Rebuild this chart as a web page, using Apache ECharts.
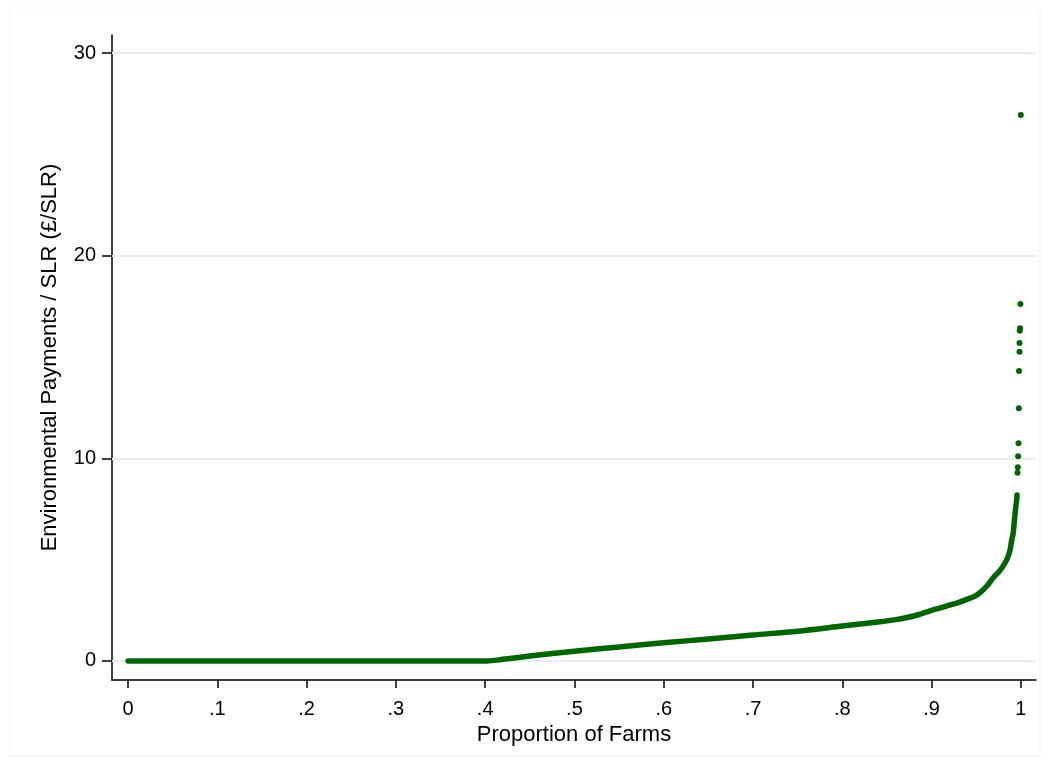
<!DOCTYPE html>
<html>
<head>
<meta charset="utf-8">
<script src="https://cdn.jsdelivr.net/npm/echarts@6/dist/echarts.min.js"></script>
<style>
  html, body { margin: 0; padding: 0; background: #fff; }
  #chart { width: 1048px; height: 764px; }
</style>
</head>
<body>
<div id="chart"></div>
<script>
// proportion of farms (x) and payments per SLR (y)
var curveX = [0, 0.402, 0.42, 0.45, 0.5, 0.55, 0.6, 0.65, 0.7, 0.75, 0.8, 0.84, 0.86, 0.88,
  0.9, 0.91, 0.92, 0.93, 0.94, 0.948, 0.955, 0.963, 0.970, 0.9757, 0.981, 0.985,
  0.988, 0.9895, 0.9914, 0.9925, 0.9936, 0.9944, 0.9955, 0.9957];
var curveY = [0, 0, 0.08, 0.24, 0.48, 0.69, 0.9, 1.08, 1.28, 1.47, 1.72, 1.92, 2.04, 2.22,
  2.5, 2.62, 2.75, 2.88, 3.05, 3.19, 3.4, 3.75, 4.16, 4.41, 4.74, 5.07,
  5.48, 5.89, 6.30, 6.79, 7.29, 7.61, 8.0, 8.19];
// the sparse outliers at the top end
var tailX = [0.9963, 0.9966, 0.9970, 0.9974, 0.9978, 0.998, 0.9985, 0.9985, 0.9988, 0.9992, 0.9995, 1.0];
var tailY = [9.29, 9.56, 10.10, 10.74, 12.47, 14.31, 15.26, 15.69, 16.3, 16.42, 17.61, 26.94];

var xTicks = [0, 0.1, 0.2, 0.3, 0.4, 0.5, 0.6, 0.7, 0.8, 0.9, 1];
var yTicks = [0, 10, 20, 30];

var green = "#006400";
var font = "'Liberation Sans', Arial, sans-serif";

var curve = [];
for (var i = 0; i < curveX.length; i++) curve.push([curveX[i], curveY[i]]);
var tail = [];
for (var j = 0; j < tailX.length; j++) tail.push([tailX[j], tailY[j]]);

var chart = echarts.init(document.getElementById("chart"));

var option = {
  animation: false,
  backgroundColor: "#fff",
  graphic: [{
    type: "rect",
    shape: { x: 10, y: 8, width: 1030, height: 748 },
    style: { fill: "none", stroke: "#f1f3f5", lineWidth: 1 },
    silent: true
  }],
  grid: { left: 112, right: 12, top: 35, bottom: 84, containLabel: false },
  xAxis: {
    type: "value",
    min: -0.018,
    max: 1.017,
    name: "Proportion of Farms",
    nameLocation: "middle",
    nameGap: 40,
    nameTextStyle: { fontFamily: font, fontSize: 22, color: "#000" },
    axisLine: { show: true, onZero: false, lineStyle: { color: "#000", width: 1.5 } },
    axisTick: { show: true, length: 8, customValues: xTicks, lineStyle: { color: "#000", width: 1.5 } },
    axisLabel: {
      customValues: xTicks,
      margin: 19,
      fontFamily: font,
      fontSize: 20,
      color: "#000",
      formatter: function (v) {
        var s = String(Math.round(v * 10) / 10);
        return s.replace(/^0\./, ".");
      }
    },
    splitLine: { show: false }
  },
  yAxis: {
    type: "value",
    min: -0.94,
    max: 30.89,
    name: "Environmental Payments / SLR (£/SLR)",
    nameLocation: "middle",
    nameGap: 51,
    nameTextStyle: { fontFamily: font, fontSize: 22, color: "#000" },
    axisLine: { show: true, onZero: false, lineStyle: { color: "#000", width: 1.5 } },
    axisTick: { show: true, length: 10, customValues: yTicks, lineStyle: { color: "#000", width: 1.5 } },
    axisLabel: {
      customValues: yTicks,
      margin: 16,
      fontFamily: font,
      fontSize: 20,
      color: "#000"
    },
    splitLine: { show: false }
  },
  series: [
    {
      type: "line",
      data: curve,
      showSymbol: false,
      symbol: "none",
      smooth: 0.3,
      lineStyle: { color: green, width: 5.5, cap: "round", join: "round" },
      z: 3,
      markLine: {
        silent: true,
        symbol: "none",
        label: { show: false },
        lineStyle: { color: "#e8eef0", width: 2, type: "solid" },
        data: yTicks.map(function (v) { return { yAxis: v }; }),
        z: 1
      }
    },
    {
      type: "scatter",
      data: tail,
      symbol: "circle",
      symbolSize: 6,
      itemStyle: { color: green, opacity: 1 },
      z: 4
    }
  ]
};
chart.setOption(option);
</script>
</body>
</html>
